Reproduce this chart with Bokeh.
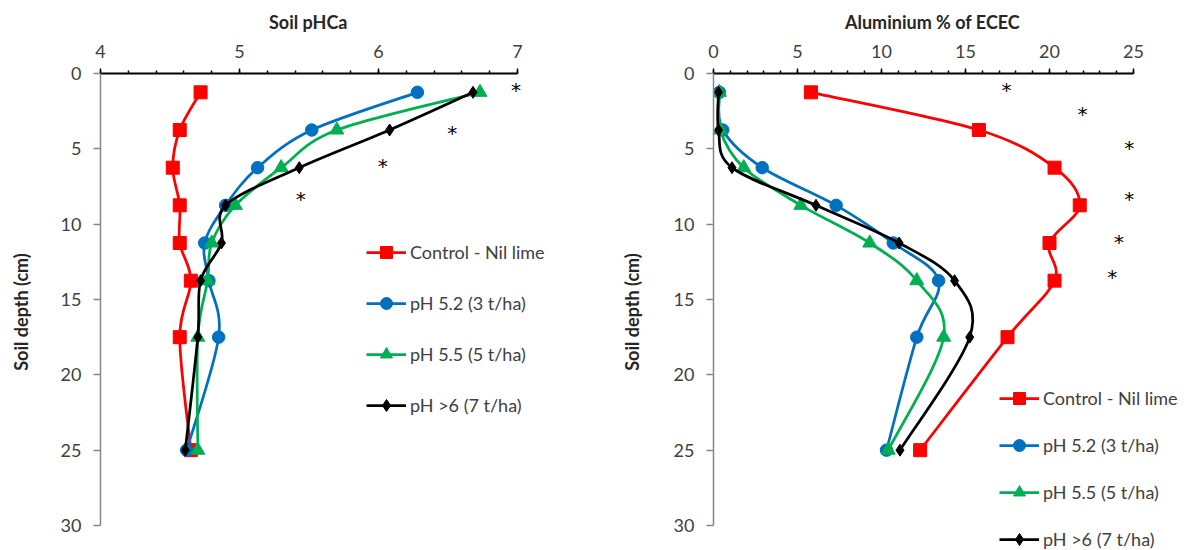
import numpy as np
from bokeh.plotting import figure
from bokeh.models import Range1d, SingleIntervalTicker, Legend, LegendItem, Title
from bokeh.layouts import row
from bokeh.embed import file_html
from bokeh.resources import INLINE
from bokeh.core.properties import value

# ---------------- data ----------------
depth = [1.25, 3.75, 6.25, 8.75, 11.25, 13.75, 17.5, 25]
series_names = ["Control - Nil lime", "pH 5.2 (3 t/ha)", "pH 5.5 (5 t/ha)", "pH >6 (7 t/ha)"]

ph_control = [4.72, 4.57, 4.52, 4.57, 4.57, 4.65, 4.57, 4.65]
ph_52 = [6.28, 5.52, 5.13, 4.90, 4.75, 4.78, 4.85, 4.62]
ph_55 = [6.73, 5.70, 5.30, 4.97, 4.80, 4.77, 4.70, 4.70]
ph_6 = [6.68, 6.08, 5.43, 4.90, 4.87, 4.72, 4.70, 4.61]

al_control = [5.8, 15.8, 20.3, 21.8, 20.0, 20.3, 17.5, 12.3]
al_52 = [0.35, 0.55, 2.9, 7.3, 10.7, 13.4, 12.1, 10.3]
al_55 = [0.35, 0.4, 1.8, 5.2, 9.3, 12.1, 13.7, 10.4]
al_6 = [0.3, 0.3, 1.1, 6.1, 11.05, 14.35, 15.25, 11.1]

ph_star_x = [6.99, 6.53, 6.03, 5.44]
ph_star_y = [0.97, 3.84, 6.0, 8.22]
al_star_x = [17.44, 21.96, 24.75, 24.75, 24.14, 23.73]
al_star_y = [0.97, 2.58, 4.79, 8.22, 11.02, 13.4]

ph_axis = (4, 7)
al_axis = (0, 25)
depth_axis = (0, 30)

# ---------------- styles / layout ----------------
colors = ["#FF0000", "#0070C0", "#00B050", "#000000"]
markers = ["square", "circle", "triangle", "diamond"]
msizes = [13, 12.5, 14, 12]
FONT = "Lato"
H = 550
TOP = 73            # frame top (px)
AXIS_BOTTOM = 525   # pixel where depth 30 sits


def smooth_segments(xs, ys):
    """Bezier control points for an Excel-like smoothed line."""
    x = np.asarray(xs, float)
    y = np.asarray(ys, float)
    n = len(x)
    xp = np.concatenate([[x[0]], x, [x[-1]]])
    yp = np.concatenate([[y[0]], y, [y[-1]]])
    cx0 = x[:-1] + (xp[2:n + 1] - xp[0:n - 1]) / 6.0
    cy0 = y[:-1] + (yp[2:n + 1] - yp[0:n - 1]) / 6.0
    cx1 = x[1:] - (xp[3:n + 2] - xp[1:n]) / 6.0
    cy1 = y[1:] - (yp[3:n + 2] - yp[1:n]) / 6.0
    return dict(x0=x[:-1], y0=y[:-1], x1=x[1:], y1=y[1:],
                cx0=cx0, cy0=cy0, cx1=cx1, cy1=cy1)


def make_fig(width, bl, br, axis_px, xaxis, major, nminor, title, title_w, y_label_standoff,
             series, stars_x, stars_y, legend_loc, legend_spacing):
    frame_w = width - bl - br
    frame_h = H - TOP
    x_end = xaxis[0] + (xaxis[1] - xaxis[0]) * frame_w / axis_px
    y_end = depth_axis[1] * frame_h / (AXIS_BOTTOM - TOP)
    p = figure(width=width, height=H,
               x_range=Range1d(xaxis[0], x_end), y_range=Range1d(y_end, depth_axis[0]),
               x_axis_location="above", y_axis_location="left",
               output_backend="svg", toolbar_location=None,
               min_border_left=bl, min_border_right=br,
               min_border_top=TOP, min_border_bottom=0)
    p.outline_line_color = None
    p.xgrid.grid_line_color = None
    p.ygrid.grid_line_color = None
    p.background_fill_color = "white"
    p.border_fill_color = "white"

    xa = p.xaxis[0]
    xa.bounds = xaxis
    xa.ticker = SingleIntervalTicker(interval=major, num_minor_ticks=nminor)
    xa.axis_line_color = "black"
    xa.axis_line_width = 2
    xa.major_tick_line_color = "black"
    xa.major_tick_line_width = 1.5
    xa.minor_tick_line_color = "black"
    xa.minor_tick_line_width = 1.5
    xa.major_tick_out = 5
    xa.major_tick_in = 0
    xa.minor_tick_out = 3
    xa.minor_tick_in = 0
    xa.major_label_standoff = 11
    xa.major_label_text_font = FONT
    xa.major_label_text_font_size = "18px"
    xa.major_label_text_color = "#404040"

    # chart title centred over the drawn axis (not over the whole frame)
    title_offset = (axis_px - title_w) / 2.0
    p.add_layout(Title(text=title, align="left", offset=title_offset,
                       vertical_align="bottom", standoff=17,
                       text_font=FONT, text_font_size="18px",
                       text_font_style="bold", text_color="#262626"), "above")

    ya = p.yaxis[0]
    ya.bounds = depth_axis
    ya.ticker = SingleIntervalTicker(interval=5, num_minor_ticks=0)
    ya.axis_line_color = "#868686"
    ya.axis_line_width = 1.5
    ya.major_tick_line_color = "#868686"
    ya.major_tick_line_width = 1.5
    ya.minor_tick_line_color = None
    ya.major_tick_out = 7
    ya.major_tick_in = 0
    ya.major_label_standoff = 12
    ya.major_label_text_font = FONT
    ya.major_label_text_font_size = "18px"
    ya.major_label_text_color = "#404040"
    ya.axis_label = "Soil depth (cm)"
    ya.axis_label_text_font = FONT
    ya.axis_label_text_font_size = "18px"
    ya.axis_label_text_font_style = "bold"
    ya.axis_label_text_color = "#262626"
    ya.axis_label_standoff = y_label_standoff

    items = []
    for name, vals, c, m, s in zip(series_names, series, colors, markers, msizes):
        lr = p.bezier(source=smooth_segments(vals, depth), x0="x0", y0="y0", x1="x1", y1="y1",
                      cx0="cx0", cy0="cy0", cx1="cx1", cy1="cy1",
                      line_color=c, line_width=2.75)
        sr = p.scatter(x=vals, y=depth, marker=m, size=s,
                       fill_color=c, line_color=c, line_width=1)
        items.append(LegendItem(label=name, renderers=[lr, sr]))

    p.text(x=stars_x, y=stars_y, text=["*"] * len(stars_x),
           text_font=value("DejaVu Sans"), text_font_size="20px", text_color="black",
           text_align="center", text_baseline="middle", y_offset=2)

    leg = Legend(items=items, location=legend_loc,
                 glyph_width=40, glyph_height=30, label_height=30,
                 label_standoff=4, spacing=legend_spacing,
                 padding=0, margin=0,
                 background_fill_alpha=0, border_line_color=None,
                 label_text_font=FONT, label_text_font_size="18px",
                 label_text_color="#404040")
    p.add_layout(leg, "center")
    return p


p1 = make_fig(600, 100, 10, 417, ph_axis, 1, 5, "Soil pHCa", 80, 26,
              [ph_control, ph_52, ph_55, ph_6], ph_star_x, ph_star_y,
              (266, 130), 21)
p2 = make_fig(589, 113, 0, 420, al_axis, 5, 5, "Aluminium % of ECEC", 157, 28,
              [al_control, al_52, al_55, al_6], al_star_x, al_star_y,
              (286, -4), 17)

layout = row(p1, p2, spacing=0)
open("out.html", "w").write(file_html(layout, INLINE))
